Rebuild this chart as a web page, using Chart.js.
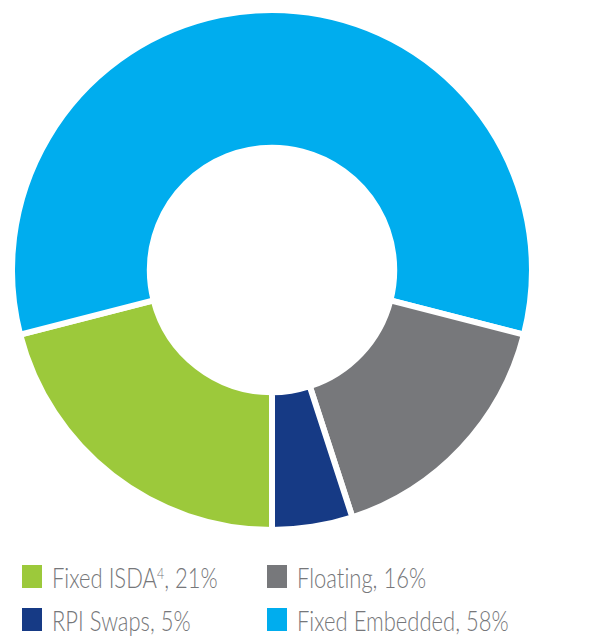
<!DOCTYPE html>
<html lang="en">
<head>
    <meta charset="UTF-8">
    <title>Swap mix</title>
    <style>
        body {
            margin: 0;
            padding: 0;
            background-color: #fff;
            width: 615px;
            height: 637px;
            position: relative;
            overflow: hidden;
            font-family: Lato, "Open Sans", sans-serif;
        }

        .chart-box {
            position: absolute;
            left: 9px;
            top: 7px;
            width: 526px;
            height: 526px;
        }

        #legend {
            position: absolute;
            left: 22px;
            top: 564px;
            width: 590px;
        }

        .item {
            position: absolute;
            white-space: nowrap;
            color: #76777a;
            font-size: 26.5px;
            font-weight: 300;
            line-height: 28px;
            font-variant-ligatures: none;
        }

        .item .sw {
            position: absolute;
            left: 0;
            top: 1px;
            width: 20px;
            height: 23px;
        }

        .item span.txt {
            position: absolute;
            left: 30px;
            top: 0;
            transform: scaleX(0.83);
            transform-origin: left center;
        }

        .item sup {
            font-size: 15px;
            vertical-align: 9px;
            line-height: 0;
        }
    </style>
    <script src="https://cdn.jsdelivr.net/npm/chart.js"></script>
</head>
<body>
    <div class="chart-box">
        <canvas id="mixChart"></canvas>
    </div>
    <div id="legend"></div>

    <script>
        // 차트 순서 (6시 방향에서 시계방향)
        const labels = ['Fixed ISDA', 'Fixed Embedded', 'Floating', 'RPI Swaps'];
        const notes = ['4', '', '', ''];
        const values = [21, 58, 16, 5];
        const colors = ['#9cc93b', '#00adee', '#77787b', '#163a85'];

        // 범례 순서 (행 단위)
        const legendOrder = [0, 2, 3, 1];

        const ctx = document.getElementById('mixChart').getContext('2d');
        const mixChart = new Chart(ctx, {
            type: 'doughnut',
            data: {
                labels: labels,
                datasets: [{
                    data: values,
                    backgroundColor: colors,
                    borderColor: '#ffffff',
                    borderWidth: 6,
                    hoverOffset: 0
                }]
            },
            options: {
                responsive: true,
                maintainAspectRatio: false,
                animation: false,
                rotation: 180,
                cutout: '47%',
                layout: { padding: 0 },
                plugins: {
                    legend: { display: false },
                    tooltip: { enabled: false }
                }
            }
        });

        const legend = document.getElementById('legend');
        legendOrder.forEach((idx, i) => {
            const col = i % 2;
            const row = Math.floor(i / 2);
            const item = document.createElement('div');
            item.className = 'item';
            item.style.left = (col * 245) + 'px';
            item.style.top = (row * 43) + 'px';
            const note = notes[idx] ? `<sup>${notes[idx]}</sup>` : '';
            item.innerHTML = `<div class="sw" style="background:${colors[idx]}"></div>` +
                `<span class="txt">${labels[idx]}${note}, ${values[idx]}%</span>`;
            legend.appendChild(item);
        });
    </script>
</body>
</html>
